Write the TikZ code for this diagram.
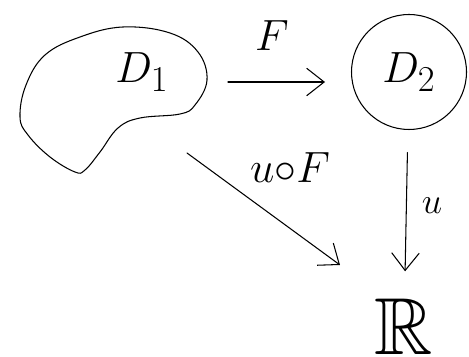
\documentclass[tikz,border=0pt]{standalone}
\usepackage{amssymb}
\usepackage{tikz}
\usetikzlibrary{arrows.meta}
\tikzset{
    setlbl/.style={inner sep=0pt, font=\fontsize{31}{34}\selectfont},
    maplbl/.style={inner sep=0pt, font=\fontsize{36}{40}\selectfont},
    mapline/.style={-{Straight Barb[length=3.5mm, width=5.5mm]}, semithick, line cap=round}
}
\begin{document}
\begin{tikzpicture}[x=0.02cm, y=-0.02cm, line cap=round, line join=round]
            \useasboundingbox (0,0) rectangle (469,357);

            \draw[semithick] plot[smooth cycle, tension=0.65] coordinates {(20,117) (26,85) (45,55) (80,37) (123,27) (170,33) (198,52) (207,80) (195,105) (180,114) (140,118) (118,128) (100,152) (85,170) (75,172) (50,157) (28,135)};
            \node[setlbl] (d1) at (142,72) {$D_1$};

            \node[setlbl, draw, semithick, circle, minimum size=2.3cm] (d2) at (409,72) {$D_2$};
            \node[inner sep=0pt, font=\fontsize{46}{50}\selectfont] (r) at (404,327) {$\mathbb{R}$};

            \coordinate (fstart) at (228,82);
            \coordinate (fend) at (325,82);
            \coordinate (gstart) at (187,153);
            \coordinate (gend) at (340,265);

            \draw[mapline] (fstart) -- (fend);
            \draw[mapline, shorten <=0.45cm, shorten >=0.55cm] (d2) -- (r);
            \draw[mapline] (gstart) -- (gend);

            \node[maplbl] at (272,36) {$F$};
            \node[font=\fontsize{22}{24}\selectfont] at (432,206) {$u$};
            \node[inner sep=0pt, font=\fontsize{30}{34}\selectfont] at (290,168) {$u{\circ}F$};
        \end{tikzpicture}
\end{document}
